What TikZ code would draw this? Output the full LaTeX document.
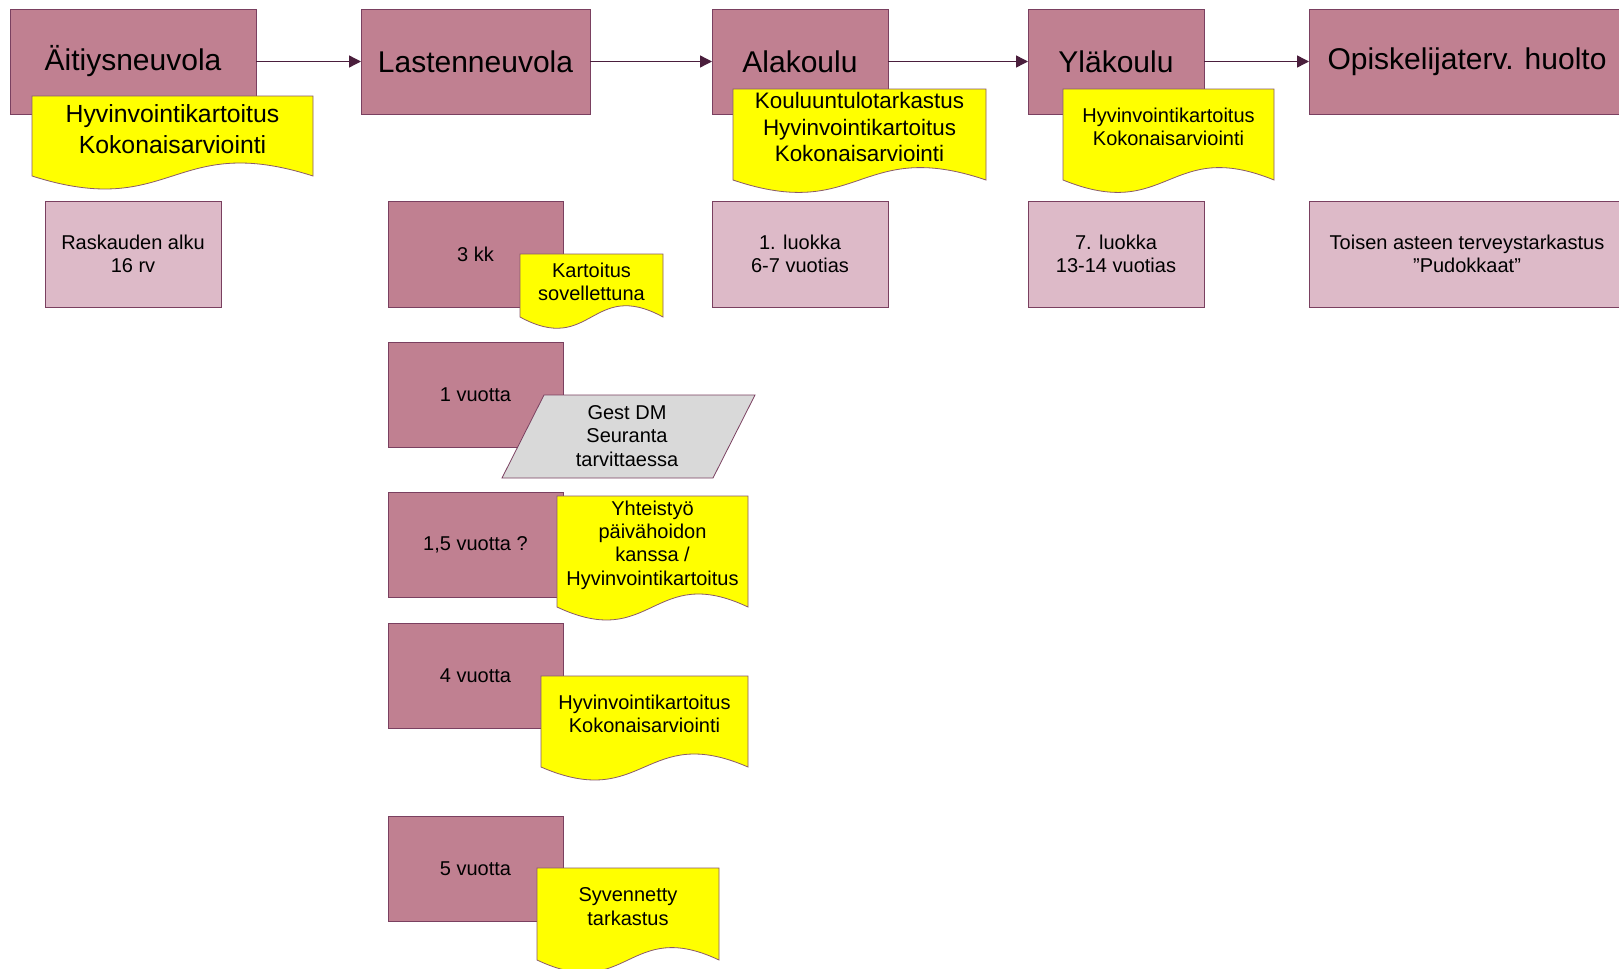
\documentclass[tikz,border=0pt]{standalone}
\usepackage{fontspec}
\setmainfont{Liberation Sans}
\usetikzlibrary{arrows.meta}
\definecolor{mauve}{HTML}{C08091}
\definecolor{lmauve}{HTML}{DDBAC8}
\definecolor{plum}{HTML}{7A4060}
\definecolor{docedge}{HTML}{8A5A6A}
\definecolor{arrowc}{HTML}{4A1E3C}
\definecolor{docy}{HTML}{FFFF00}
\definecolor{grayp}{HTML}{D9D9D9}
\newcommand\docshape[5]{%
  \filldraw[docfill] (#1,#3) -- (#2,#3) -- (#2,#4)
    .. controls ({(#1+#2)/2},{#4-#5}) and ({(#1+#2)/2},{#4+#5}) .. (#1,#4) -- cycle;}
\tikzset{
  box/.style={draw=plum, line width=0.45pt, inner sep=0pt, outer sep=0pt, align=center},
  stage/.style={box, fill=mauve, minimum height=52.5pt, font=\fontsize{15}{18}\selectfont},
  darkbox/.style={box, fill=mauve, minimum width=87.5pt, minimum height=52.5pt, font=\fontsize{10}{11.8}\selectfont},
  lightbox/.style={box, fill=lmauve, minimum height=53pt, font=\fontsize{10}{11.8}\selectfont},
  doctext/.style={align=center, inner sep=0pt, font=\fontsize{10}{11.7}\selectfont},
  docfill/.style={fill=docy, draw=docedge, line width=0.4pt},
  parafill/.style={fill=grayp, draw=plum, line width=0.4pt},
  flow/.style={draw=arrowc, line width=0.7pt, -{Triangle[length=6pt,width=6pt]}},
}
\begin{document}
\begin{tikzpicture}[x=0.5pt,y=-0.5pt]
\useasboundingbox (0,0) rectangle (1619,969);
\fill[white] (0,0) rectangle (1619,969);

% top row
\node[stage, minimum width=123pt] (A) at (133,61.5) {Äitiysneuvola};
\node[stage, minimum width=114.5pt] (L) at (475.5,61.5) {Lastenneuvola};
\node[stage, minimum width=88pt] (K) at (800,61.5) {Alakoulu};
\node[stage, minimum width=88pt] (Y) at (1116,61.5) {Yläkoulu};
\node[stage, minimum width=158pt] (O) at (1467,61.5) {Opiskelijaterv. huolto};

\draw[flow] (A.east) -- (L.west);
\draw[flow] (L.east) -- (K.west);
\draw[flow] (K.east) -- (Y.west);
\draw[flow] (Y.east) -- (O.west);

% documents on top row
\docshape{32}{313}{96}{176}{45}
\node[doctext, font=\fontsize{12.4}{15.5}\selectfont] (dA) at (172.5,129) {Hyvinvointikartoitus\\Kokonaisarviointi};
\docshape{733}{986}{89}{180}{43}
\node[doctext, font=\fontsize{11.2}{13.2}\selectfont] (dK) at (859.5,127) {Kouluuntulotarkastus\\Hyvinvointikartoitus\\Kokonaisarviointi};
\docshape{1063}{1274}{89}{180}{43}
\node[doctext] (dY) at (1168.5,127) {Hyvinvointikartoitus\\Kokonaisarviointi};

% second row
\node[lightbox, minimum width=88pt] (R) at (133,254) {Raskauden alku\\16 rv};
\node[darkbox, minimum height=53pt] (L3) at (475.5,254) {3 kk};
\node[lightbox, minimum width=88pt] (K1) at (800,254) {1. luokka\\6-7 vuotias};
\node[lightbox, minimum width=88pt] (Y7) at (1116,254) {7. luokka\\13-14 vuotias};
\node[lightbox, minimum width=158pt] (OT) at (1467,254) {Toisen asteen terveystarkastus\\”Pudokkaat”};

\docshape{520}{663}{254}{317}{39}
\node[doctext] (dKart) at (591.5,282) {Kartoitus\\sovellettuna};

% Lastenneuvola column
\node[darkbox] (L1) at (475.5,394.5) {1 vuotta};
\filldraw[parafill] (544,395) -- (755,395) -- (713,478) -- (502,478) -- cycle;
\node[doctext] (gest) at (627,436) {Gest DM\\Seuranta\\tarvittaessa};

\node[darkbox] (L15) at (475.5,544.5) {1,5 vuotta ?};
\docshape{557}{748}{496}{607}{45}
\node[doctext] (dYht) at (652.5,545) {Yhteistyö\\päivähoidon\\kanssa /\\Hyvinvointikartoitus};

\node[darkbox] (L4) at (475.5,675.5) {4 vuotta};
\docshape{541}{748}{676}{767}{45}
\node[doctext] (d4) at (644.5,714) {Hyvinvointikartoitus\\Kokonaisarviointi};

\node[darkbox] (L5) at (475.5,868.5) {5 vuotta};
\docshape{537}{719}{868}{960}{43}
\node[doctext] (d5) at (628,906.7) {Syvennetty\\tarkastus};
\end{tikzpicture}
\end{document}
